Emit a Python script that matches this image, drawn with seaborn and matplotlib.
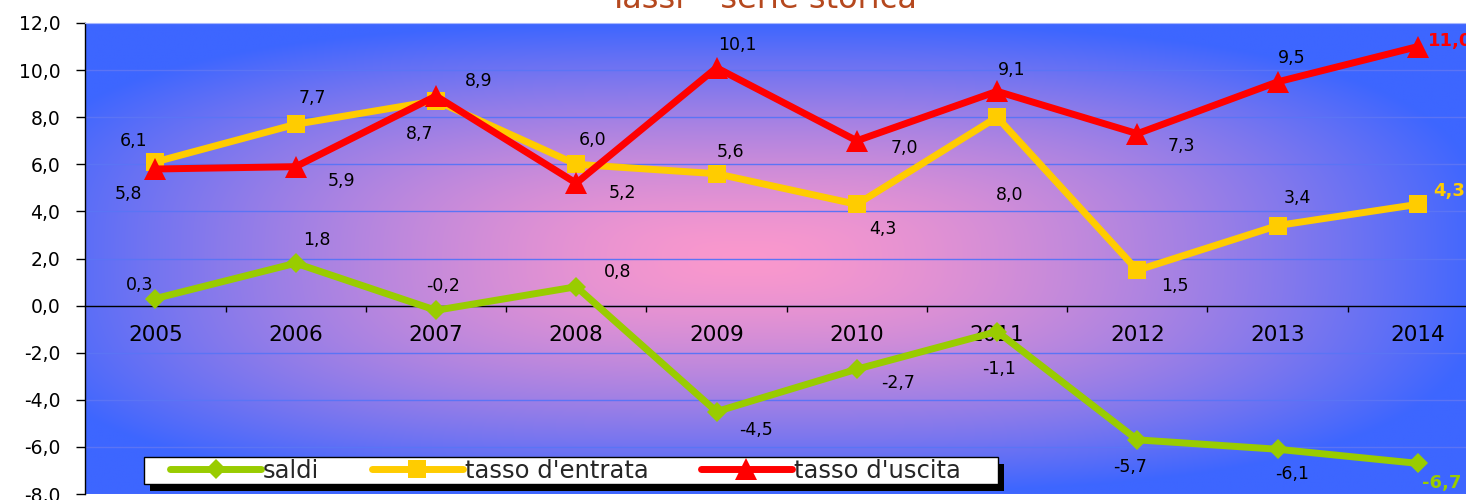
import numpy as np
import pandas as pd
import matplotlib
matplotlib.use("Agg")
import matplotlib.pyplot as plt
import seaborn as sns
from matplotlib.ticker import FuncFormatter
from matplotlib.patches import Rectangle

# data
years = ["2005", "2006", "2007", "2008", "2009", "2010", "2011", "2012", "2013", "2014"]
saldi = [0.3, 1.8, -0.2, 0.8, -4.5, -2.7, -1.1, -5.7, -6.1, -6.7]
entrata = [6.1, 7.7, 8.7, 6.0, 5.6, 4.3, 8.0, 1.5, 3.4, 4.3]
uscita = [5.8, 5.9, 8.9, 5.2, 10.1, 7.0, 9.1, 7.3, 9.5, 11.0]
series_names = ["saldi", "tasso d'entrata", "tasso d'uscita"]
y_ticks = [-8, -6, -4, -2, 0, 2, 4, 6, 8, 10, 12]
title = "Tassi – serie storica"

# label offsets in pixels (dx right, dy up) relative to each point
saldi_off = [(-16, 14), (21, 23), (7, 24), (41, 15), (39, -18),
             (41, -14), (2, -37), (-7, -27), (15, -25), (4, -20)]
entrata_off = [(-22, 21), (17, 26), (-16, -33), (16, 24), (14, 22),
               (26, -25), (13, -78), (38, -16), (20, 28), (15, 13)]
uscita_off = [(-27, -25), (46, -14), (43, 15), (46, -10), (21, 23),
              (48, -7), (15, 21), (44, -12), (14, 24), (10, 6)]

colors = ["#99CC00", "#FFCC00", "#FF0000"]
markers = ["D", "s", "^"]
msizes = [10, 12.5, 15.5]

sns.set_style("ticks")
plt.rcParams["font.family"] = ["DejaVu Sans"]

W, H = 1466, 500
fig = plt.figure(figsize=(W / 100, H / 100), dpi=100)
ax = fig.add_axes([85.3 / W, 6 / H, 1402.7 / W, 471 / H])

# gradient background from the centre: pink middle, blue edges
gw, gh = 900, 300
U, V = np.meshgrid(np.linspace(0, 1, gw), np.linspace(0, 1, gh))
d = ((np.abs(U - 0.47) / 0.53) ** 3 + (np.abs(V - 0.5) / 0.5) ** 3) ** (1 / 3)
t = (np.clip(d, 0, 1) ** 1.5)[..., None]
blue = np.array([61, 102, 255]) / 255
pink = np.array([250, 152, 205]) / 255
ax.imshow(pink * (1 - t) + blue * t, extent=[0, 1, 0, 1], transform=ax.transAxes,
          aspect="auto", zorder=-1, interpolation="bilinear")

handles = []
for name, vals, c, m, ms, z in zip(series_names, [saldi, entrata, uscita], colors,
                                   markers, msizes, [3, 4, 5]):
    df = pd.DataFrame({"anno": years, "valore": vals})
    sns.lineplot(data=df, x="anno", y="valore", color=c, marker=m, markersize=ms,
                 markeredgewidth=0, linewidth=5, sort=False, ax=ax, zorder=z)
    handles.append(ax.lines[-1])

fmt = lambda v: f"{v:.1f}".replace(".", ",")

for vals, offs, c in zip([saldi, entrata, uscita], [saldi_off, entrata_off, uscita_off], colors):
    for i, (v, (dx, dy)) in enumerate(zip(vals, offs)):
        last = i == len(vals) - 1
        ax.annotate(fmt(v), (i, v), xytext=(dx * 0.72, dy * 0.72), textcoords="offset points",
                    ha="left" if last else "center", va="center",
                    fontsize=13 if last else 12.5, color=c if last else "black",
                    fontweight="bold" if last else "normal", zorder=10,
                    annotation_clip=False)

ax.set_xlim(-0.5, 9.5)
ax.set_ylim(-8, 12)
ax.set_xlabel("")
ax.set_ylabel("")
ax.set_yticks(y_ticks)
ax.yaxis.set_major_formatter(FuncFormatter(lambda v, p: fmt(v)))
ax.set_xticks(range(len(years)), years)
ax.set_xticks(np.arange(0.5, len(years) - 1, 1), minor=True)
ax.tick_params(axis="x", which="major", length=0, pad=14, labelsize=15.5, colors="black")
ax.tick_params(axis="x", which="minor", length=4.3, width=1, direction="out", color="black")
ax.tick_params(axis="y", length=6.5, width=1, direction="out", pad=11.5,
               labelsize=13.5, colors="black")

ax.set_axisbelow(True)
ax.grid(axis="y", color="#5B74F5", linewidth=1)
ax.grid(axis="x", visible=False)
ax.spines["bottom"].set_position(("data", 0))
ax.spines["bottom"].set_color("black")
ax.spines["bottom"].set_linewidth(1)
ax.spines["left"].set_color("black")
ax.spines["left"].set_linewidth(1)
ax.spines["top"].set_color("#A8B8FF")
ax.spines["right"].set_visible(False)

fig.text(763 / W, 1 - 8 / H, title, ha="center", va="baseline",
         fontsize=23, color="#B5481E")

# legend box with a solid black shadow
def px_rect(x0, y0, x1, y1, **kw):
    return Rectangle((x0 / W, 1 - y1 / H), (x1 - x0) / W, (y1 - y0) / H,
                     transform=fig.transFigure, **kw)

fig.add_artist(px_rect(150, 464, 1004, 491, facecolor="black", edgecolor="none", zorder=3))
fig.add_artist(px_rect(144, 457, 998, 484, facecolor="white", edgecolor="black",
                       linewidth=1, zorder=4))
fig.legend(handles, series_names, loc="center left", bbox_to_anchor=(170 / W, 1 - 470.5 / H),
           ncol=3, frameon=False, borderpad=0, borderaxespad=0, handlelength=3.75,
           handletextpad=0.08, columnspacing=2.15, fontsize=17.5, numpoints=1)

fig.savefig("out.png", dpi=100)
